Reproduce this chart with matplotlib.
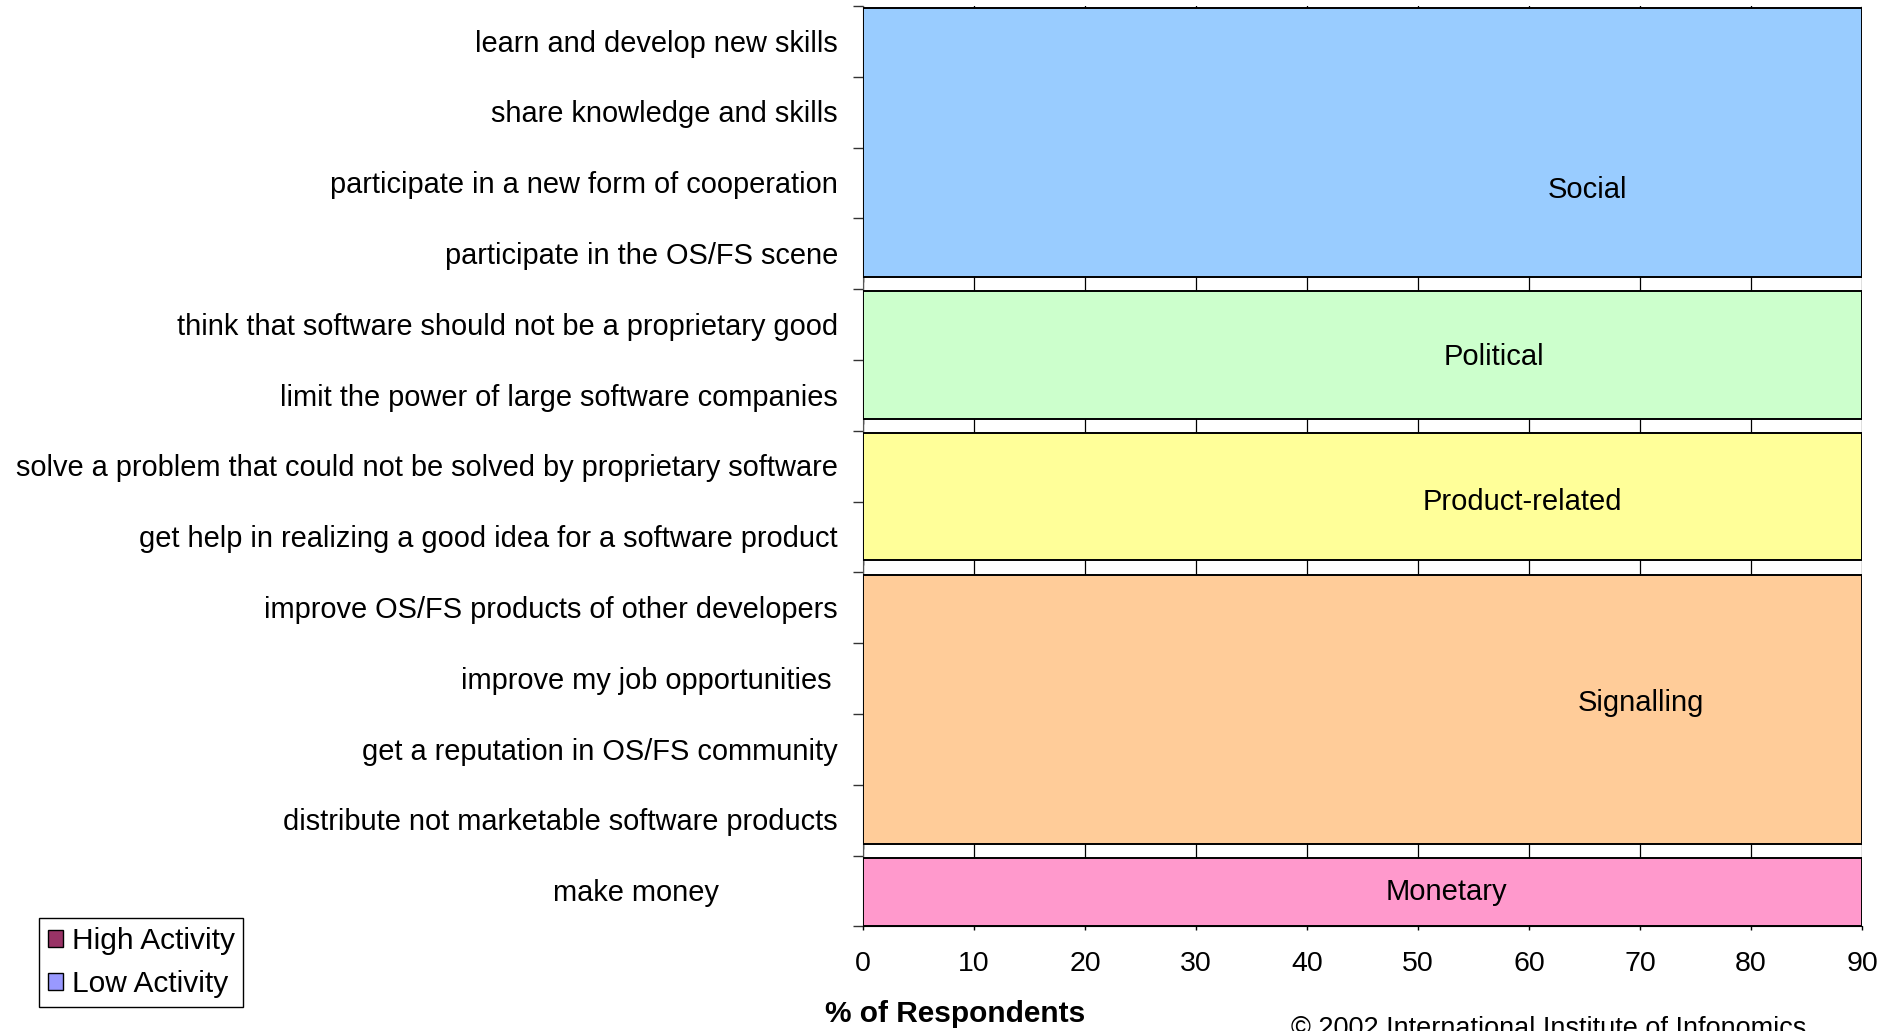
import numpy as np
import matplotlib
matplotlib.use("Agg")
import matplotlib.pyplot as plt
from matplotlib.transforms import blended_transform_factory

plt.rcParams['font.family'] = ['Liberation Sans', 'DejaVu Sans']

# reasons for participating, top to bottom
reasons = [
    "learn and develop new skills",
    "share knowledge and skills",
    "participate in a new form of cooperation",
    "participate in the OS/FS scene",
    "think that software should not be a proprietary good",
    "limit the power of large software companies",
    "solve a problem that could not be solved by proprietary software",
    "get help in realizing a good idea for a software product",
    "improve OS/FS products of other developers",
    "improve my job opportunities",
    "get a reputation in OS/FS community",
    "distribute not marketable software products",
    "make money",
]
# the bars sit hidden under the group panels, nothing readable beyond 0
high_activity = [0, 0, 0, 0, 0, 0, 0, 0, 0, 0, 0, 0, 0]
low_activity = [0, 0, 0, 0, 0, 0, 0, 0, 0, 0, 0, 0, 0]

groups = ["Social", "Political", "Product-related", "Signalling", "Monetary"]
group_sizes = [4, 2, 2, 4, 1]
x_max = 90

group_colors = ["#99CCFF", "#CCFFCC", "#FFFF99", "#FFCC99", "#FF99CC"]
# where Excel put the group captions (x in %, y in rows)
caption_pos = [(65.3, 2.6), (56.8, 4.96), (59.4, 7.0), (70.1, 9.84), (52.6, 12.52)]
# a few labels were shifted left in the original (pixels)
label_nudge = {"make money": 119, "improve my job opportunities": 7}

fig = plt.figure(figsize=(18.96, 10.31), dpi=100)
ax = fig.add_axes([0.4552, 0.1014, 0.5269, 0.8928])

n = len(reasons)
y = np.arange(n)
ax.barh(y + 0.3, high_activity, height=0.4, color="#993366", edgecolor="black",
        linewidth=1, label="High Activity", zorder=2)
ax.barh(y + 0.7, low_activity, height=0.4, color="#9999FF", edgecolor="black",
        linewidth=1, label="Low Activity", zorder=2)

# group panels drawn over the bars
start = 0
for name, size, col, (cx, cy) in zip(groups, group_sizes, group_colors, caption_pos):
    end = start + size
    top = start + 0.03
    bot = end - (0.17 if end < n else 0.01)
    ax.barh(top, x_max, height=bot - top, left=0, align="edge", color=col,
            edgecolor="black", linewidth=1.4, zorder=3)
    ax.text(cx, cy, name, ha="center", va="center", fontsize=21, zorder=4)
    start = end

ax.set_xlim(0, x_max)
ax.set_ylim(n, 0)
ax.set_xticks(np.arange(0, x_max + 1, 10))
ax.tick_params(axis="x", labelsize=20.5, length=3, width=1, pad=15, color="black")
ax.set_yticks(np.arange(0, n + 1))
ax.set_yticklabels([])
ax.tick_params(axis="y", length=7.2, width=1, color="#333333")
ax.grid(axis="x", color="black", linewidth=0.9)
ax.set_axisbelow(True)
for s in ["top", "right"]:
    ax.spines[s].set_visible(False)
ax.spines["left"].set_color("#555555")
ax.spines["bottom"].set_color("black")

trans = blended_transform_factory(ax.transAxes, ax.transData)
for i, lab in enumerate(reasons):
    dx = (25 + label_nudge.get(lab, 0)) / (ax.get_position().width * 1896)
    ax.text(-dx, i + 0.53, lab, transform=trans, ha="right", va="center",
            fontsize=20.9, clip_on=False)

fig.text(955 / 1896, 1 - 1014 / 1031, "% of Respondents", ha="center", va="center",
         fontsize=21.5, fontweight="bold")
fig.text(1291 / 1896, 1 - 1016 / 1031, "\u00a9 2002 International Institute of Infonomics",
         ha="left", va="top", fontsize=19.5)

leg = fig.legend(loc="lower left", bbox_to_anchor=(0.0204, 0.0233),
                 bbox_transform=fig.transFigure, borderaxespad=0, fontsize=21.5,
                 fancybox=False, edgecolor="black", framealpha=1,
                 handlelength=0.5, handleheight=0.5, handletextpad=0.3,
                 labelspacing=0.5, borderpad=0.3)
leg.get_frame().set_linewidth(1)

fig.savefig("out.png", dpi=100)
